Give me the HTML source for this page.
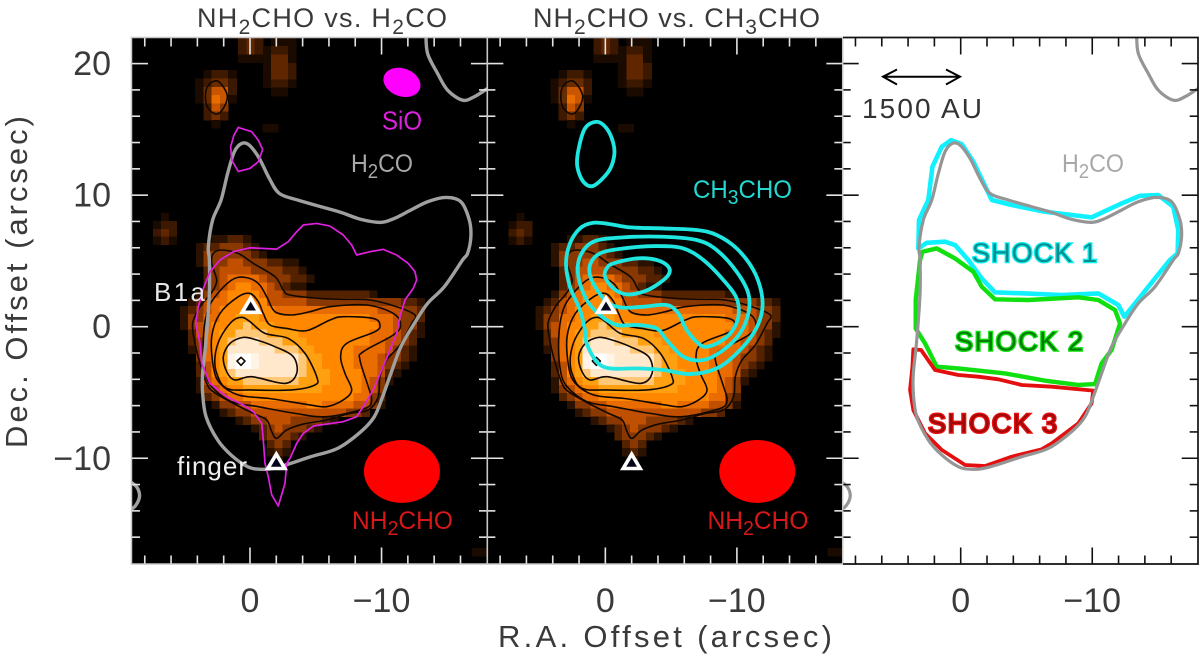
<!DOCTYPE html>
<html lang="en">
<head>
<meta charset="utf-8">
<title>NH2CHO contour maps</title>
<style>
html,body{margin:0;padding:0;background:#fff;width:1200px;height:661px;overflow:hidden}
svg{display:block}
text{font-family:"Liberation Sans",sans-serif}
</style>
</head>
<body>
<svg id="chart" xmlns="http://www.w3.org/2000/svg" width="1200" height="661" viewBox="0 0 1200 661">
  <defs>
    <clipPath id="clip-0"><rect x="132" y="38" width="355" height="526"/></clipPath>
    <clipPath id="clip-1"><rect x="487.3" y="38" width="355.4" height="526"/></clipPath>
    <clipPath id="clip-2"><rect x="842.7" y="38" width="355.3" height="526"/></clipPath>
  </defs>
  <rect x="132" y="38" width="355.3" height="526" fill="#000"/>
  <rect x="487.3" y="38" width="355.4" height="526" fill="#000"/>
  <g id="marks"></g>

  <text x="197" y="27" font-size="27" fill="#3a3a3a" textLength="250" lengthAdjust="spacing">NH<tspan font-size="21" dy="7">2</tspan><tspan dy="-7">CHO vs. H</tspan><tspan font-size="21" dy="7">2</tspan><tspan dy="-7">CO</tspan></text>
  <text x="533" y="27" font-size="27" fill="#3a3a3a" textLength="287" lengthAdjust="spacing">NH<tspan font-size="21" dy="7">2</tspan><tspan dy="-7">CHO vs. CH</tspan><tspan font-size="21" dy="7">3</tspan><tspan dy="-7">CHO</tspan></text>
  <text x="498" y="647" font-size="31" fill="#3a3a3a" textLength="334" lengthAdjust="spacing">R.A. Offset (arcsec)</text>
  <text transform="translate(27,448) rotate(-90)" font-size="31" fill="#3a3a3a" textLength="332" lengthAdjust="spacing">Dec. Offset (arcsec)</text>

  <text x="382" y="129.5" font-size="26" fill="#e020e0" textLength="40" lengthAdjust="spacingAndGlyphs">SiO</text>
  <text x="351" y="172" font-size="25" fill="#a8a8a8" textLength="62" lengthAdjust="spacingAndGlyphs">H<tspan font-size="20" dy="6">2</tspan><tspan dy="-6">CO</tspan></text>
  <text x="154" y="301" font-size="26" fill="#e8e8e8" textLength="51" lengthAdjust="spacing">B1a</text>
  <text x="177" y="475" font-size="26" fill="#f0f0f0" textLength="70" lengthAdjust="spacing">finger</text>
  <text x="352" y="529" font-size="25" fill="#d81818" textLength="101" lengthAdjust="spacingAndGlyphs">NH<tspan font-size="20" dy="6">2</tspan><tspan dy="-6">CHO</tspan></text>
  <text x="693" y="198" font-size="25" fill="#22d8d0" textLength="99" lengthAdjust="spacingAndGlyphs">CH<tspan font-size="20" dy="6">3</tspan><tspan dy="-6">CHO</tspan></text>
  <text x="707.5" y="529" font-size="25" fill="#d81818" textLength="101" lengthAdjust="spacingAndGlyphs">NH<tspan font-size="20" dy="6">2</tspan><tspan dy="-6">CHO</tspan></text>

  <g>
    <path d="M883 76.7H960M897 69.5L883 76.7L897 84.5M946 69.5L960 76.7L946 84.5" fill="none" stroke="#000" stroke-width="2"/>
    <text x="862" y="118" font-size="28" fill="#333" textLength="120" lengthAdjust="spacing">1500 AU</text>
  </g>
  <text x="1062" y="172" font-size="25" fill="#a8a8a8" textLength="62" lengthAdjust="spacingAndGlyphs">H<tspan font-size="20" dy="6">2</tspan><tspan dy="-6">CO</tspan></text>
  <text x="972" y="262" font-size="27" fill="#088c8c" stroke="#10eef0" stroke-width="2.6" paint-order="stroke" textLength="125" lengthAdjust="spacing">SHOCK 1</text>
  <text x="955" y="350.5" font-size="27" fill="#087a08" stroke="#10e010" stroke-width="2.6" paint-order="stroke" textLength="128" lengthAdjust="spacing">SHOCK 2</text>
  <text x="928" y="432.5" font-size="27" fill="#a00808" stroke="#e81010" stroke-width="2.6" paint-order="stroke" textLength="129" lengthAdjust="spacing">SHOCK 3</text>
</svg>

<script>
// ---- axis values (arcsec) ----
const xTickValues = [8, 6, 4, 2, 0, -2, -4, -6, -8, -10, -12, -14, -16];
const yTickValues = [20, 18, 16, 14, 12, 10, 8, 6, 4, 2, 0, -2, -4, -6, -8, -10, -12, -14, -16];
const xMajorTicks = [0, -10];
const yMajorTicks = [20, 10, 0, -10];
const xTickLabels = ["0", "\u221210"];
const yTickLabels = ["20", "10", "0", "\u221210"];

// ---- NH2CHO intensity map values (0 to 10), rows from north to south ----
const mainPatchRa = 5.32, mainPatchDec = 6.97;
const mainPatch = [
 [0,0,0,0,1,1,2,2,1,0,0,0,0,0,0,0,0,0,0,0,0,0,0,0,0,0,0,0,0,0,0],
 [0,0,1,2,2,3,3,3,2,1,0,0,0,0,0,0,0,0,0,0,0,0,0,0,0,0,0,0,0,0,0],
 [0,0,1,3,3,3,3,3,3,2,1,0,0,0,0,0,0,0,0,0,0,0,0,0,0,0,0,0,0,0,0],
 [0,0,1,3,3,3,4,4,3,3,3,2,2,1,1,0,0,0,0,0,0,0,0,0,0,0,0,0,0,0,0],
 [0,0,0,2,3,4,4,4,4,3,3,3,3,2,2,1,0,0,0,0,0,0,0,0,0,0,0,0,0,0,0],
 [0,0,0,2,3,4,5,5,5,5,4,3,3,3,2,2,1,0,0,0,0,0,0,0,0,0,0,0,0,0,0],
 [0,0,0,2,3,4,5,6,6,5,5,4,3,2,1,1,0,0,0,0,0,0,0,0,0,0,0,0,0,0,0],
 [0,0,1,3,4,5,6,6,6,6,5,4,4,3,3,3,2,2,2,2,2,2,2,2,1,0,0,0,0,0,0],
 [0,1,2,4,5,5,6,6,6,6,6,4,4,4,4,4,3,3,3,3,3,3,3,3,3,3,3,3,2,2,1],
 [1,2,3,4,5,6,6,6,7,6,6,6,5,5,5,5,5,5,5,5,5,5,5,5,5,4,4,4,3,3,2],
 [1,3,3,5,5,6,6,7,7,7,6,6,6,6,6,6,6,6,6,6,6,6,6,6,5,5,5,4,3,3,2],
 [1,3,4,5,6,6,7,7,8,7,7,7,6,6,6,6,6,6,6,6,6,6,6,6,6,5,5,4,3,3,1],
 [0,2,4,5,6,7,7,8,8,8,8,7,7,7,7,6,6,6,6,6,6,6,6,6,5,5,5,4,3,2,1],
 [0,2,3,5,6,7,8,9,9,9,8,8,8,7,7,7,6,6,6,6,6,6,6,6,5,5,4,4,3,2,0],
 [0,1,3,5,6,7,9,9,9,9,9,9,8,8,8,7,7,6,6,6,6,6,5,5,5,5,4,3,2,1,0],
 [0,0,3,5,6,7,9.5,10,10,9.5,9,9,9,9,9,8,7,7,6,6,6,6,5,5,5,4,3,3,2,1,0],
 [0,0,2,4,6,7,9.5,10,10,9.5,9,9,9,9,9,8,7,7,6,6,6,6,5,5,5,4,3,2,1,0,0],
 [0,0,2,4,6,7,8,9,9,9,9,9,9,9,9,8,7,7,7,6,6,6,6,5,5,4,2,1,0,0,0],
 [0,0,1,4,5,6,7,7,8,8,8,8,8,8,8,7,7,7,7,6,6,6,6,5,4,3,1,0,0,0,0],
 [0,0,1,3,4,5,6,6,7,7,7,7,7,7,7,7,7,7,6,6,6,6,6,5,4,3,0,0,0,0,0],
 [0,0,0,2,3,4,5,5,6,6,6,6,6,6,6,6,6,6,6,6,6,6,5,5,3,2,0,0,0,0,0],
 [0,0,0,0,1,3,3,4,4,5,5,5,5,5,5,5,6,6,5,5,5,5,4,4,3,1,0,0,0,0,0],
 [0,0,0,0,0,1,2,3,3,4,4,4,4,4,4,4,4,4,4,4,4,3,3,2,0,0,0,0,0,0,0],
 [0,0,0,0,0,0,0,1,2,3,3,4,4,4,3,3,3,3,2,1,0,0,0,0,0,0,0,0,0,0,0],
 [0,0,0,0,0,0,0,0,0,1,2,3,4,3,3,3,2,1,0,0,0,0,0,0,0,0,0,0,0,0,0],
 [0,0,0,0,0,0,0,0,0,0,2,3,3,3,2,1,0,0,0,0,0,0,0,0,0,0,0,0,0,0,0],
 [0,0,0,0,0,0,0,0,0,0,0,2,3,2,0,0,0,0,0,0,0,0,0,0,0,0,0,0,0,0,0],
 [0,0,0,0,0,0,0,0,0,0,0,1,2,1,0,0,0,0,0,0,0,0,0,0,0,0,0,0,0,0,0],
 [0,0,0,0,0,0,0,0,0,0,0,0,1,0,0,0,0,0,0,0,0,0,0,0,0,0,0,0,0,0,0]
];
const northPeakRa = 4.18, northPeakDec = 19.5;
const northPeakPatch = [
 [0,.6,1.5,1.5,.6],
 [.6,1.5,2.4,2.4,1.4],
 [.6,2.4,4.2,4.2,1.4],
 [.6,2.4,5,4.2,.6],
 [0,1.5,4.2,3,0],
 [0,1.5,2.6,1.5,0],
 [0,0,.6,0,0]
];
const topEdgeRa = 0.91, topEdgeDec = 21.95;
const topEdgePatch = [
 [1.4,2.2,1.4,0,.6,.6,.6],
 [1.4,2.2,1.4,.6,1.4,1.4,.6],
 [.6,.6,.6,.6,2.2,2.2,.6],
 [0,0,0,.6,2.2,2.2,1.4],
 [0,0,0,.6,2.2,2.2,1.4],
 [0,0,0,.6,1.4,1.4,.6],
 [0,0,0,0,.6,.6,0]
];
const westSpotRa = 7.37, westSpotDec = 8.64;
const westSpotPatch = [
 [0,.6,0],
 [.6,1.4,1.4],
 [1.4,2.2,1.4],
 [.6,1.4,.6]
];
const faintSpotRa = -0.95, faintSpotDec = 15.4;
const faintSpotPatch = [[.6,.6]];
const cornerSpotRa = -16.87, cornerSpotDec = -16.82;
const cornerSpotPatch = [[.6,.6]];
const heatColors = ["#000000","#2b1100","#552200","#883800","#c05000","#e86c00","#ff8800","#ffa010","#ffc878","#ffe8cc","#ffffff"];

// ---- black NH2CHO contours [ra, dec] ----
const nh2choLevel1 = [[2.79,5.57],[2.15,5.83],[.89,5.57],[-.25,4.81],[-1.90,3.80],[-2.53,2.79],[-3.04,2.41],[-5.32,2.15],[-7.35,2.08],[-9.12,2.03],[-11.15,1.52],[-12.54,.89],[-12.29,.25],[-11.40,-1.39],[-10.39,-2.53],[-9.88,-3.80],[-9.75,-5.32],[-8.99,-6.33],[-7.60,-6.59],[-5.83,-7.09],[-4.05,-7.40],[-2.79,-7.85],[-2.03,-8.49],[-1.65,-7.98],[-1.27,-7.09],[-.25,-6.59],[1.27,-5.83],[2.79,-4.94],[3.29,-4.31],[3.80,-2.79],[4.18,-1.27],[4.36,.25],[3.80,1.52],[3.17,2.28],[2.79,2.79],[2.53,3.55],[2.91,4.81]];
const nh2choLevel2 = [[.38,3.75],[-.63,3.29],[-1.27,2.28],[-1.90,1.14],[-3.17,.89],[-4.56,1.14],[-6.08,1.52],[-8.87,1.65],[-10.89,1.01],[-11.45,.13],[-10.89,-.63],[-8.61,-1.90],[-8.36,-2.53],[-8.99,-4.56],[-9.25,-5.57],[-8.74,-6.21],[-5.83,-6.84],[-3.42,-6.59],[-.63,-6.08],[1.39,-5.70],[2.91,-4.56],[3.42,-3.29],[3.55,-1.01],[3.29,1.01],[2.66,2.28],[1.39,3.55]];
const nh2choLevel3 = [[.89,2.28],[0,2.53],[-.63,1.90],[-1.01,1.01],[-1.52,.13],[-2.79,-.13],[-4.31,-.30],[-6.08,.51],[-7.09,.76],[-9.37,.63],[-9.88,.13],[-9.50,-.38],[-7.35,-1.27],[-6.89,-2.28],[-7.22,-3.55],[-7.73,-4.81],[-7.09,-5.57],[-5.83,-6.08],[-4.56,-5.95],[-3.04,-5.70],[-1.39,-5.45],[.89,-5.19],[2.28,-4.31],[2.79,-3.04],[2.91,-.76],[2.28,1.01]];
const nh2choLevel4 = [[.63,.71],[0,.38],[-1.14,-.51],[-2.91,-.89],[-4.18,-2.03],[-5.07,-3.80],[-4.94,-4.43],[-3.17,-4.81],[-.13,-4.81],[1.77,-4.69],[2.53,-3.55],[2.66,-2.28],[2.28,-.89],[1.39,.38]];
const nh2choLevel5 = [[.51,-.81],[-.51,-1.01],[-1.90,-1.52],[-3.29,-2.28],[-3.55,-3.55],[-2.66,-4.31],[-.13,-3.80],[1.14,-4.05],[1.77,-3.42],[2.03,-2.28],[1.52,-1.27]];
const nh2choPeak = [[.68,-2.33],[.38,-2.61],[.68,-2.94],[.99,-2.61]];
const nh2choNorthPeak = [[2.53,18.69],[2.03,18.24],[1.72,17.48],[2.03,16.59],[2.53,16.16],[3.17,16.59],[3.39,17.48],[3.17,18.36]];

// ---- gray H2CO contours [ra, dec] ----
const h2coMain = [[.63,13.93],[.05,13.80],[-.71,12.79],[-1.47,11.27],[-2.23,10.13],[-3.62,9.63],[-5.40,9.12],[-6.91,8.69],[-8.43,8.16],[-9.95,7.93],[-10.97,8.23],[-12.23,8.87],[-13.50,9.50],[-14.89,9.83],[-16.03,9.50],[-16.67,8.11],[-16.79,6.84],[-16.54,5.57],[-16.16,5.07],[-14.77,3.04],[-13.50,1.77],[-12.49,.25],[-11.47,-1.52],[-10.71,-3.55],[-10.08,-5.32],[-9.45,-6.84],[-8.43,-7.98],[-6.66,-9.25],[-4.64,-9.88],[-2.10,-10.69],[-.84,-10.84],[.18,-10.64],[1.44,-9.75],[2.46,-8.61],[3.34,-6.84],[3.60,-5.07],[3.60,-3.55],[3.34,-1.01],[3.09,2.53],[3.09,5.07],[3.17,6.08],[2.84,8.11],[2.20,9.63],[1.70,11.65],[1.19,13.30]];
const h2coNorth = [[-13.37,22.3],[-13.5,20.77],[-14.26,19.25],[-15.02,17.98],[-16.16,17.22],[-17.05,17.48],[-18.06,18.11]];
const h2coEdgeArc = [[9.2,-11.7],[8.6,-12.2],[8.4,-12.9],[8.7,-13.6],[9.2,-14.0]];

// ---- magenta SiO contours [ra, dec] ----
const sioMain = [[-4.05,7.73],[-5.07,7.85],[-6.08,7.65],[-7.09,6.97],[-7.73,6.21],[-8.11,5.45],[-9.12,5.70],[-10.13,5.88],[-11.15,5.45],[-12.03,4.81],[-12.54,4.18],[-12.67,3.55],[-12.41,2.91],[-11.78,2.03],[-11.40,.76],[-11.15,-.51],[-10.64,-1.77],[-10.01,-3.29],[-9.37,-4.81],[-8.61,-6.08],[-8.11,-6.84],[-7.09,-7.22],[-5.83,-7.40],[-4.81,-7.55],[-4.05,-8.11],[-3.55,-8.87],[-3.04,-10.01],[-2.79,-10.39],[-2.66,-11.91],[-2.15,-13.63],[-1.65,-12.79],[-1.39,-11.40],[-1.14,-10.39],[-1.01,-8.61],[-.89,-7.35],[-.25,-6.46],[.51,-5.95],[1.77,-5.32],[3.04,-4.31],[3.67,-2.79],[3.80,-1.27],[4.13,.25],[3.93,1.52],[3.55,2.91],[3.04,4.18],[2.28,5.07],[1.27,5.70],[0,6.00],[-2.03,5.90],[-2.91,6.46],[-3.55,7.22]];
const sioNorth = [[.89,15.15],[-.13,14.82],[-.63,14.18],[-.96,13.48],[-.63,12.54],[0,12.03],[.89,11.80],[1.39,12.66],[1.47,13.68],[1.22,14.56]];

// ---- cyan CH3CHO contours [ra, dec] ----
const ch3choLevel1 = [[.91,7.90],[-.35,7.80],[-1.87,7.55],[-4.41,7.47],[-6.94,7.35],[-8.46,6.97],[-9.98,5.95],[-11.25,4.31],[-11.88,2.53],[-11.88,1.01],[-11.25,-.51],[-9.98,-2.03],[-8.46,-3.17],[-6.43,-3.60],[-4.41,-3.29],[-2.38,-3.17],[-.35,-3.17],[.66,-2.66],[1.42,-1.27],[1.55,-.25],[1.93,1.27],[2.69,3.04],[2.99,4.81],[2.69,6.33],[1.93,7.47]];
const ch3choLevel2 = [[-1.37,6.79],[-4.41,6.84],[-6.94,6.59],[-8.46,5.83],[-9.98,4.18],[-10.87,2.53],[-10.87,1.01],[-10.23,-.51],[-8.97,-1.77],[-7.45,-2.53],[-5.93,-2.28],[-4.66,-1.01],[-3.90,-.13],[-2.38,.13],[-.86,.13],[.41,.89],[1.42,2.03],[2.05,3.80],[1.93,5.32],[.91,6.46]];
const ch3choLevel3 = [[-1.37,5.95],[-3.90,6.13],[-5.93,5.95],[-7.45,5.07],[-8.97,3.55],[-9.98,2.15],[-10.11,.76],[-9.60,-.38],[-8.71,-1.14],[-7.70,-1.52],[-7.07,-1.27],[-6.18,-.25],[-5.55,1.01],[-4.66,1.65],[-2.89,1.52],[-1.11,1.47],[.03,2.03],[1.04,3.55],[1.17,4.69],[.41,5.57]];
const ch3choLevel4 = [[-.61,4.81],[-2.38,5.19],[-3.90,5.07],[-4.79,4.56],[-4.79,3.93],[-3.90,3.17],[-2.89,2.66],[-1.62,2.46],[-.61,2.91],[.03,3.80],[-.10,4.43]];
const ch3choNorth = [[.66,15.58],[-.10,15.07],[-.61,13.93],[-.66,12.92],[-.23,11.78],[.91,10.71],[1.67,11.02],[2.13,12.16],[2.05,13.42],[1.55,15.07]];

// ---- shock regions [ra, dec] ----
const shock1Region = [[3.22,5.95],[3.17,8.11],[2.46,9.63],[2.15,12.16],[1.44,13.68],[.73,14.18],[-.08,13.88],[-.96,12.54],[-2.36,9.63],[-3.88,9.25],[-6.41,8.74],[-9.95,8.31],[-12.23,9.37],[-13.63,9.95],[-15.02,10.01],[-16.16,9.12],[-16.54,7.35],[-16.49,5.57],[-15.91,5.07],[-14.77,3.67],[-13.25,1.77],[-12.44,.76],[-11.98,1.65],[-10.46,2.53],[-7.67,2.41],[-4.89,2.53],[-2.61,2.61],[-1.60,3.67],[-.58,5.07],[.43,6.21],[1.19,6.46],[2.58,6.38]];
const shock2Region = [[2.91,5.70],[1.82,5.95],[.43,5.19],[-.96,4.18],[-1.60,3.04],[-2.61,2.08],[-5.14,2.03],[-8.94,2.23],[-10.46,2.03],[-11.73,1.27],[-12.11,.25],[-11.47,-1.77],[-10.71,-2.79],[-10.21,-4.36],[-8.94,-4.43],[-6.41,-4.10],[-3.37,-3.55],[.18,-3.17],[1.82,-3.04],[2.71,-1.27],[3.42,-.13],[3.42,2.03],[3.09,5.07]];
const shock3Region = [[3.60,-1.72],[3.01,-1.77],[1.95,-3.29],[.18,-3.67],[-1.34,-3.80],[-2.86,-4.00],[-4.64,-4.43],[-6.92,-4.56],[-10.08,-4.86],[-9.95,-5.83],[-8.94,-7.35],[-6.92,-8.87],[-6.16,-9.32],[-3.88,-9.88],[-1.85,-10.59],[-.33,-10.51],[1.44,-9.37],[2.71,-8.11],[3.60,-6.33],[3.85,-4.81],[3.67,-3.04]];

// ---- markers and beams [ra, dec] ----
const b1aPosition = [-0.05, 1.57];
const fingerPosition = [-2.0, -10.3];
const nh2choBeam = [-11.55, -11.0, 2.89, 2.39];
const sioBeam = [-11.55, 18.57, 1.45, 1.06];

// ---- axis functions ----
const PX_PER_ARCSEC = 13.155;
const PANEL_ZERO_X = [250, 605.35, 960.7];
const DEC_ZERO_Y = 326.7;
const NS = "http://www.w3.org/2000/svg";
const xScale = (ra, panel) => PANEL_ZERO_X[panel] - ra * PX_PER_ARCSEC;
const yScale = dec => DEC_ZERO_Y - dec * PX_PER_ARCSEC;

const marks = document.getElementById("marks");

function make(tag, attrs, parent) {
  const node = document.createElementNS(NS, tag);
  for (const k in attrs) node.setAttribute(k, attrs[k]);
  parent.appendChild(node);
  return node;
}

function hexToRgb(h) {
  return [parseInt(h.slice(1, 3), 16), parseInt(h.slice(3, 5), 16), parseInt(h.slice(5, 7), 16)];
}
function heatColor(v) {
  const t = Math.max(0, Math.min(heatColors.length - 1, v));
  const i = Math.min(heatColors.length - 2, Math.floor(t));
  const a = hexToRgb(heatColors[i]), b = hexToRgb(heatColors[i + 1]);
  const f = t - i;
  return "rgb(" + a.map((c, n) => Math.round(c + (b[n] - c) * f)).join(",") + ")";
}

function drawPatch(values, ra0, dec0, cell, panel, parent) {
  values.forEach((row, r) => {
    row.forEach((v, c) => {
      if (!v) return;
      const left = xScale(ra0 - c * cell, panel);
      const top = yScale(dec0 - r * cell);
      const size = cell * PX_PER_ARCSEC;
      const rect = make("rect", {
        x: left.toFixed(2), y: top.toFixed(2),
        width: (size + 0.4).toFixed(2), height: (size + 0.4).toFixed(2),
        fill: heatColor(v), "shape-rendering": "crispEdges"
      }, parent);
      
      
    });
  });
}

function smoothPath(points, panel, closed) {
  const p = points.map(q => [xScale(q[0], panel), yScale(q[1])]);
  const n = p.length;
  const at = i => closed ? p[(i + n) % n] : p[Math.max(0, Math.min(n - 1, i))];
  let d = "M" + p[0][0].toFixed(2) + " " + p[0][1].toFixed(2);
  const last = closed ? n : n - 1;
  for (let i = 0; i < last; i++) {
    const p0 = at(i - 1), p1 = at(i), p2 = at(i + 1), p3 = at(i + 2);
    const c1x = p1[0] + (p2[0] - p0[0]) / 6, c1y = p1[1] + (p2[1] - p0[1]) / 6;
    const c2x = p2[0] - (p3[0] - p1[0]) / 6, c2y = p2[1] - (p3[1] - p1[1]) / 6;
    d += "C" + c1x.toFixed(2) + " " + c1y.toFixed(2) + " " + c2x.toFixed(2) + " " + c2y.toFixed(2) + " " + p2[0].toFixed(2) + " " + p2[1].toFixed(2);
  }
  return d + (closed ? "Z" : "");
}
function straightPath(points, panel) {
  return "M" + points.map(q => xScale(q[0], panel).toFixed(2) + " " + yScale(q[1]).toFixed(2)).join("L") + "Z";
}

function drawCurve(points, panel, parent, stroke, width, name, opts) {
  const o = opts || {};
  const d = o.straight ? straightPath(points, panel) : smoothPath(points, panel, o.open ? false : true);
  const path = make("path", {
    d: d, fill: "none", stroke: stroke, "stroke-width": width,
    "stroke-linejoin": "round", "stroke-linecap": "round"
  }, parent);
  
  
}

function drawBeam(beam, panel, parent, fill, angle, name) {
  const cx = xScale(beam[0], panel), cy = yScale(beam[1]);
  const e = make("ellipse", {
    cx: cx.toFixed(2), cy: cy.toFixed(2),
    rx: (beam[2] * PX_PER_ARCSEC).toFixed(2), ry: (beam[3] * PX_PER_ARCSEC).toFixed(2),
    fill: fill, transform: "rotate(" + angle + " " + cx.toFixed(2) + " " + cy.toFixed(2) + ")"
  }, parent);
  
  
}

function drawMarker(pos, panel, parent, name) {
  const cx = xScale(pos[0], panel), cy = yScale(pos[1]);
  const t = make("polygon", {
    points: cx + "," + (cy - 8) + " " + (cx + 8.5) + "," + (cy + 6.3) + " " + (cx - 8.5) + "," + (cy + 6.3),
    fill: "#06061a", stroke: "#fff", "stroke-width": 3.6, "stroke-linejoin": "miter"
  }, parent);
  
  
}

function drawTicks(panel, parent, color, width) {
  const zero = PANEL_ZERO_X[panel];
  const left = zero - 118, right = zero + 237;
  const top = 38, bottom = 564;
  xTickValues.forEach(v => {
    const len = xMajorTicks.includes(v) ? 16.5 : 8.5;
    const x = xScale(v, panel);
    const a = make("line", { x1: x, x2: x, y1: top, y2: top + len, stroke: color, "stroke-width": width }, parent);
    
    
    const b = make("line", { x1: x, x2: x, y1: bottom, y2: bottom - len, stroke: color, "stroke-width": width }, parent);
    
    
  });
  yTickValues.forEach(v => {
    const len = yMajorTicks.includes(v) ? 16 : 8;
    const y = yScale(v);
    const a = make("line", { x1: left, x2: left + len, y1: y, y2: y, stroke: color, "stroke-width": width }, parent);
    
    
    const b = make("line", { x1: right, x2: right - len, y1: y, y2: y, stroke: color, "stroke-width": width }, parent);
    
    
  });
}

function drawHeatmap(panel, parent) {
  drawPatch(mainPatch, mainPatchRa, mainPatchDec, 0.6, panel, parent);
  drawPatch(northPeakPatch, northPeakRa, northPeakDec, 0.63, panel, parent);
  drawPatch(topEdgePatch, topEdgeRa, topEdgeDec, 0.63, panel, parent);
  drawPatch(westSpotPatch, westSpotRa, westSpotDec, 0.6, panel, parent);
  drawPatch(faintSpotPatch, faintSpotRa, faintSpotDec, 0.6, panel, parent);
  drawPatch(cornerSpotPatch, cornerSpotRa, cornerSpotDec, 0.6, panel, parent);
}

function drawNh2choContours(panel, parent) {
  const ink = "#120800";
  drawCurve(nh2choLevel1, panel, parent, ink, 1.6, "nh2cho-contour-1");
  drawCurve(nh2choLevel2, panel, parent, ink, 1.6, "nh2cho-contour-2");
  drawCurve(nh2choLevel3, panel, parent, ink, 1.6, "nh2cho-contour-3");
  drawCurve(nh2choLevel4, panel, parent, ink, 1.6, "nh2cho-contour-4");
  drawCurve(nh2choLevel5, panel, parent, ink, 1.6, "nh2cho-contour-5");
  drawCurve(nh2choPeak, panel, parent, ink, 1.6, "nh2cho-contour-peak", { straight: true });
  drawCurve(nh2choNorthPeak, panel, parent, ink, 1.6, "nh2cho-contour-north");
}

// Panel 1: NH2CHO vs H2CO + SiO
const panel1 = make("g", { "clip-path": "url(#clip-0)" }, marks);


drawHeatmap(0, panel1);
drawNh2choContours(0, panel1);
drawCurve(h2coMain, 0, panel1, "#a0a0a0", 3.4, "h2co-contour");
drawCurve(h2coNorth, 0, panel1, "#a0a0a0", 3.4, "h2co-contour-north", { open: true });
drawCurve(h2coEdgeArc, 0, panel1, "#a0a0a0", 3.4, "h2co-contour-edge", { open: true });
drawCurve(sioMain, 0, panel1, "#e020e0", 1.7, "sio-contour", { straight: true });
drawCurve(sioNorth, 0, panel1, "#e020e0", 1.7, "sio-contour-north", { straight: true });
drawBeam(nh2choBeam, 0, panel1, "#ff0000", 0, "nh2cho-beam");
drawBeam(sioBeam, 0, panel1, "#ff00ff", 20, "sio-beam");
drawMarker(b1aPosition, 0, panel1, "b1a-marker");
drawMarker(fingerPosition, 0, panel1, "finger-marker");

// Panel 2: NH2CHO vs CH3CHO
const panel2 = make("g", { "clip-path": "url(#clip-1)" }, marks);


drawHeatmap(1, panel2);
drawNh2choContours(1, panel2);
drawCurve(ch3choLevel1, 1, panel2, "#1fe6e0", 3.8, "ch3cho-contour-1");
drawCurve(ch3choLevel2, 1, panel2, "#1fe6e0", 3.8, "ch3cho-contour-2");
drawCurve(ch3choLevel3, 1, panel2, "#1fe6e0", 3.8, "ch3cho-contour-3");
drawCurve(ch3choLevel4, 1, panel2, "#1fe6e0", 3.8, "ch3cho-contour-4");
drawCurve(ch3choNorth, 1, panel2, "#1fe6e0", 3.8, "ch3cho-contour-north");
drawBeam(nh2choBeam, 1, panel2, "#ff0000", 0, "nh2cho-beam");
drawMarker(b1aPosition, 1, panel2, "b1a-marker");
drawMarker(fingerPosition, 1, panel2, "finger-marker");

// Panel 3: shock regions
const panel3 = make("g", { "clip-path": "url(#clip-2)" }, marks);


drawCurve(shock1Region, 2, panel3, "#10f0ff", 4.6, "shock-1-region", { straight: true });
drawCurve(shock2Region, 2, panel3, "#10e010", 4.4, "shock-2-region", { straight: true });
drawCurve(shock3Region, 2, panel3, "#e41010", 3.8, "shock-3-region", { straight: true });
drawCurve(h2coMain, 2, panel3, "#959595", 3.2, "h2co-contour");
drawCurve(h2coNorth, 2, panel3, "#959595", 3.2, "h2co-contour-north", { open: true });
drawCurve(h2coEdgeArc, 2, panel3, "#959595", 3.2, "h2co-contour-edge", { open: true });

// Ticks
drawTicks(0, marks, "#e4e4e4", 1.6);
drawTicks(1, marks, "#e4e4e4", 1.6);
drawTicks(2, marks, "#111", 1.6);

// Frames
const frame1 = make("rect", { x: 131.5, y: 37.5, width: 355.8, height: 526.5, fill: "none", stroke: "#c8c8c8", "stroke-width": 1.5 }, marks);


const frame2 = make("rect", { x: 487.3, y: 37.5, width: 355.4, height: 526.5, fill: "none", stroke: "#c8c8c8", "stroke-width": 1.5 }, marks);


const frame3 = make("path", { d: "M843 37.5H1198V564H843", fill: "none", stroke: "#111", "stroke-width": 1.7 }, marks);



// Tick labels
function addText(str, x, y, anchor, name) {
  const t = make("text", { x: x, y: y, "text-anchor": anchor, "font-size": 34, fill: "#3a3a3a" }, marks);
  t.textContent = str;
  
  
}
yMajorTicks.forEach((v, i) => {
  addText(yTickLabels[i], 111, yScale(v) + 11.5, "end", "y-tick-label");
});
[0, 1, 2].forEach(panel => {
  xMajorTicks.forEach((v, i) => {
    addText(xTickLabels[i], xScale(v, panel), 612, "middle", "x-tick-label");
  });
});
</script>
</body>
</html>
